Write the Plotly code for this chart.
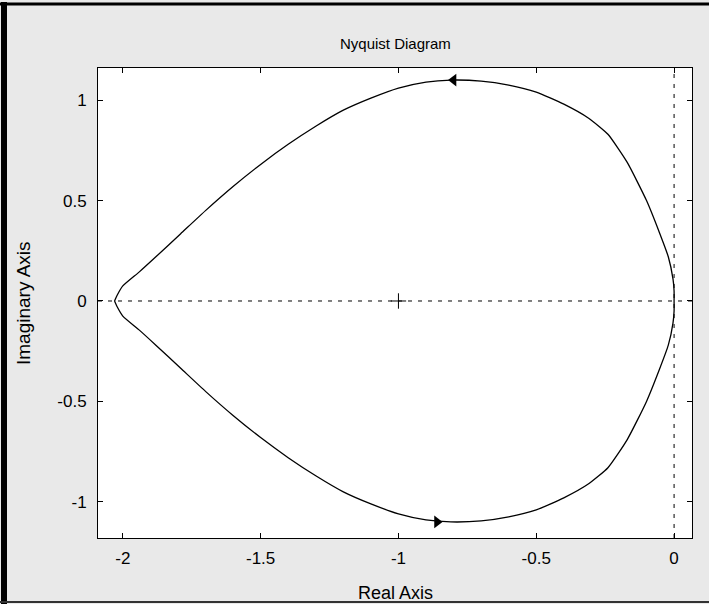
import plotly.graph_objects as go

# Upper branch of the Nyquist curve
upper_re = [-2.03, -2.02, -2.00, -1.94, -1.88, -1.79, -1.70, -1.60, -1.50, -1.40, -1.30,
            -1.20, -1.10, -1.00, -0.90, -0.81, -0.70, -0.60, -0.50, -0.40, -0.31,
            -0.24, -0.17, -0.10, -0.053, -0.021, -0.004, 0.0, 0.0]
upper_im = [0.0, 0.03, 0.075, 0.145, 0.22, 0.335, 0.45, 0.57, 0.68, 0.78, 0.87,
            0.95, 1.01, 1.06, 1.09, 1.10, 1.095, 1.075, 1.04, 0.98, 0.91,
            0.83, 0.69, 0.50, 0.34, 0.22, 0.11, 0.05, 0.0]
# Lower branch (mirror image)
lower_re = [-2.03, -2.02, -2.00, -1.94, -1.88, -1.79, -1.70, -1.60, -1.50, -1.40, -1.30,
            -1.20, -1.10, -1.00, -0.90, -0.81, -0.70, -0.60, -0.50, -0.40, -0.31,
            -0.24, -0.17, -0.10, -0.053, -0.021, -0.004, 0.0, 0.0]
lower_im = [0.0, -0.03, -0.075, -0.145, -0.22, -0.335, -0.45, -0.57, -0.68, -0.78, -0.87,
            -0.95, -1.01, -1.06, -1.09, -1.10, -1.095, -1.075, -1.04, -0.98, -0.91,
            -0.83, -0.69, -0.50, -0.34, -0.22, -0.11, -0.05, 0.0]

# Direction arrows
arrow_re = [-0.80, -0.86]
arrow_im = [1.10, -1.10]
arrow_sym = ["triangle-left", "triangle-right"]

# Critical point
crit_re = [-1.0]
crit_im = [0.0]

x_ticks = [-2, -1.5, -1, -0.5, 0]
x_labels = ["-2", "-1.5", "-1", "-0.5", "0"]
y_ticks = [-1, -0.5, 0, 0.5, 1]
y_labels = ["-1", "-0.5", "0", "0.5", "1"]

x_range = [-2.09, 0.065]
y_range = [-1.18, 1.16]

FONT = "Liberation Sans, Arial, sans-serif"

fig = go.Figure()
for xs, ys in ((upper_re, upper_im), (lower_re, lower_im)):
    fig.add_trace(go.Scatter(x=xs, y=ys, mode="lines",
                             line=dict(color="black", width=1.3, shape="spline", smoothing=0.5),
                             hoverinfo="skip", showlegend=False))
fig.add_trace(go.Scatter(x=arrow_re, y=arrow_im, mode="markers",
                         marker=dict(symbol=arrow_sym, size=11, color="black"),
                         hoverinfo="skip", showlegend=False))
fig.add_trace(go.Scatter(x=crit_re, y=crit_im, mode="markers",
                         marker=dict(symbol="cross-thin", size=11,
                                     line=dict(color="black", width=1)),
                         hoverinfo="skip", showlegend=False))

# Reference (axis) lines, dashed
fig.add_shape(type="line", xref="x", yref="y", x0=x_range[0], x1=x_range[1], y0=0, y1=0,
              line=dict(color="black", width=1, dash="4px,6px"), layer="below")
fig.add_shape(type="line", xref="x", yref="y", x0=0, x1=0, y0=y_range[0], y1=y_range[1],
              line=dict(color="black", width=1, dash="4px,6px"), layer="below")

axis_common = dict(showline=True, linecolor="black", linewidth=1, mirror="ticks",
                   ticks="inside", ticklen=5, tickcolor="black", showgrid=False,
                   zeroline=False, tickfont=dict(family=FONT, size=17, color="black"))

fig.update_layout(
    width=709, height=604,
    margin=dict(l=98, r=17, t=68, b=66),
    paper_bgcolor="#e9e9e9",
    plot_bgcolor="white",
    xaxis=dict(range=x_range, tickvals=x_ticks, ticktext=x_labels,
               ticklabelstandoff=5, **axis_common),
    yaxis=dict(range=y_range, tickvals=y_ticks, ticktext=y_labels,
               ticklabelstandoff=7, **axis_common),
    annotations=[
        dict(text="Nyquist Diagram", xref="paper", yref="paper", x=0.5, y=1.0,
             yshift=25, showarrow=False, xanchor="center", yanchor="middle",
             font=dict(family=FONT, size=15, color="black")),
        dict(text="Real Axis", xref="paper", yref="paper", x=0.5, y=0.0,
             yshift=-55, showarrow=False, xanchor="center", yanchor="middle",
             font=dict(family=FONT, size=18, color="black")),
        dict(text="Imaginary Axis", xref="paper", yref="paper", x=0.0, y=0.5,
             xshift=-75, showarrow=False, xanchor="center", yanchor="middle",
             textangle=-90, font=dict(family=FONT, size=19, color="black")),
    ],
)

# Black border lines of the scan (left, top, bottom)
fig.add_shape(type="line", xref="paper", yref="paper", x0=-94/594, x1=-94/594,
              y0=-66/470, y1=(470+66)/470, line=dict(color="black", width=6))
fig.add_shape(type="line", xref="paper", yref="paper", x0=-98/594, x1=(594+17)/594,
              y0=(470+64)/470, y1=(470+64)/470, line=dict(color="black", width=3))
fig.add_shape(type="line", xref="paper", yref="paper", x0=-98/594, x1=(594+17)/594,
              y0=-64/470, y1=-64/470, line=dict(color="#333333", width=2))

fig.write_html("out.html")
